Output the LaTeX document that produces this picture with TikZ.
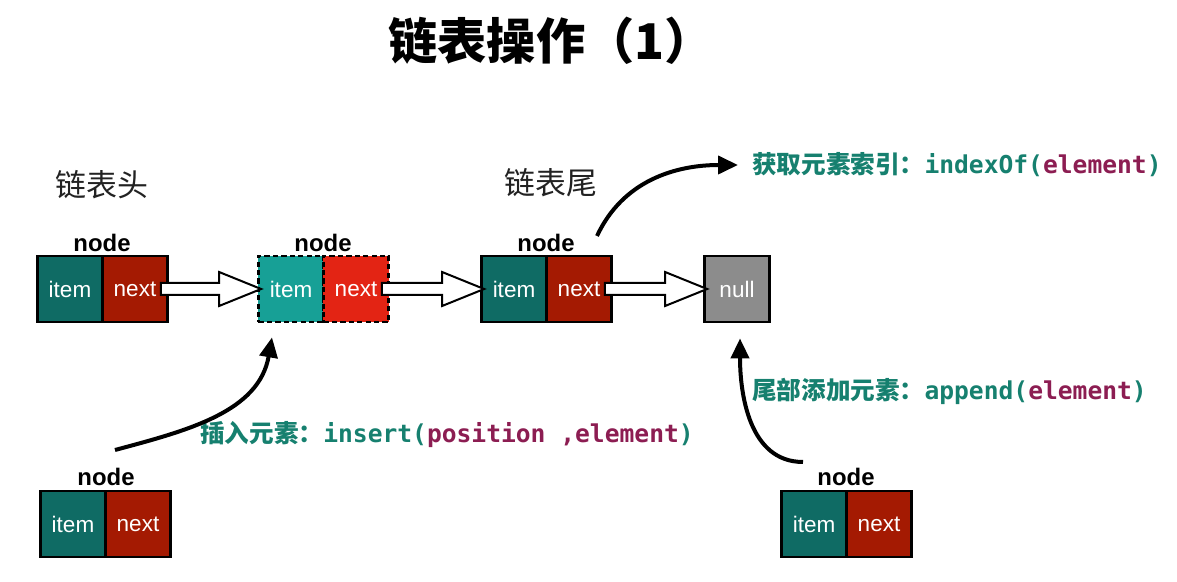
\documentclass[tikz,border=0pt]{standalone}
\usepackage{fontspec}
\setmainfont{Liberation Sans}
\setmonofont{DejaVu Sans Mono}
\newfontfamily\cjk{Noto Sans CJK SC}
\usetikzlibrary{arrows.meta}
\usetikzlibrary{calc}

\definecolor{itemdark}{HTML}{0F6B64}
\definecolor{nextdark}{HTML}{A41A02}
\definecolor{itemlight}{HTML}{17A096}
\definecolor{nextlight}{HTML}{E32414}
\definecolor{nullgray}{HTML}{8C8C8C}
\definecolor{codeteal}{HTML}{16806F}
\definecolor{codepurple}{HTML}{8C1D52}
\definecolor{headtext}{HTML}{222222}

% hollow block arrow from the next field of one node to the item field of another
\newcommand{\hollowarrow}[2]{
	\coordinate (ha) at ($(#1.east)+(-8,0)$);
	\coordinate (hb) at ($(#2.west)+(4,0)$);
	\draw[hollow] ($(ha)+(0,-6)$) -- ($(hb)+(-42,-6)$) -- ($(hb)+(-42,-17)$) -- (hb)
		-- ($(hb)+(-42,17)$) -- ($(hb)+(-42,6)$) -- ($(ha)+(0,6)$) -- cycle;
}

\begin{document}
\begin{tikzpicture}[x=0.025cm, y=-0.025cm,
			cell/.style={draw, line width=0.7mm, minimum width=1.625cm, minimum height=1.65cm, inner sep=0pt, text=white, font=\fontsize{16}{16}\selectfont},
			itemcell/.style={cell, fill=itemdark},
			nextcell/.style={cell, fill=nextdark},
			newcell/.style={cell, dash pattern=on 1.3mm off 0.8mm},
			nodelabel/.style={font=\fontsize{17}{17}\selectfont\bfseries},
			endlabel/.style={text=headtext, font=\cjk\fontsize{22}{22}\selectfont},
			hollow/.style={draw, fill=white, line width=0.5mm, line join=miter},
			curved/.style={line width=1mm, -{Triangle[length=5mm, width=4.5mm]}},
			oplabel/.style={anchor=west, inner sep=0pt, text=codeteal, font=\fontsize{17.5}{17.5}\selectfont}
		]

		\useasboundingbox (0,0) rectangle (1177,582);

		\node[font=\cjk\bfseries\fontsize{35}{35}\selectfont] (title) at (551,41) {链表操作（1）};

		\node[endlabel] (head) at (102,185) {链表头};
		\node[endlabel] (tail) at (551,183) {链表尾};

		\node[itemcell] (n1item) at (70,289) {item};
		\node[nextcell] (n1next) at (135,289) {next};
		\node[nodelabel] (lab1) at (102,243) {node};

		\node[newcell, fill=itemlight] (n2item) at (291,289) {item};
		\node[newcell, fill=nextlight] (n2next) at (356,289) {next};
		\node[nodelabel] (lab2) at (323,243) {node};

		\node[itemcell] (n3item) at (514,289) {item};
		\node[nextcell] (n3next) at (579,289) {next};
		\node[nodelabel] (lab3) at (546,243) {node};

		\node[cell, fill=nullgray] (nulln) at (737,289) {null};

		\node[itemcell] (n4item) at (73,524) {item};
		\node[nextcell] (n4next) at (138,524) {next};
		\node[nodelabel] (lab4) at (106,477) {node};

		\node[itemcell] (n5item) at (814,524) {item};
		\node[nextcell] (n5next) at (879,524) {next};
		\node[nodelabel] (lab5) at (846,477) {node};

		\hollowarrow{n1next}{n2item}
		\hollowarrow{n2next}{n3item}
		\hollowarrow{n3next}{nulln}

		\node[oplabel] (opindex) at (752,165) {\cjk\bfseries 获取元素索引：\ttfamily\bfseries indexOf(\textcolor{codepurple}{element})};
		\node[oplabel] (opinsert) at (200,435) {\cjk\bfseries 插入元素：\ttfamily\bfseries insert(\textcolor{codepurple}{position ,element})};
		\node[oplabel] (opappend) at (752,391) {\cjk\bfseries 尾部添加元素：\ttfamily\bfseries append(\textcolor{codepurple}{element})};

		\coordinate (idxstart) at (597,236);
		\coordinate (insstart) at (115,450);
		\coordinate (appstart) at (803,462);

		\draw[curved] (idxstart) to[out=65, in=180] ($(opindex.west)+(-14,0)$);
		\draw[curved] (insstart) to[out=15, in=-100] ($(n2item.south)+(-19,14)$);
		\draw[curved] (appstart) to[out=180, in=-90] ($(nulln.south)+(3,15)$);

	\end{tikzpicture}
\end{document}
